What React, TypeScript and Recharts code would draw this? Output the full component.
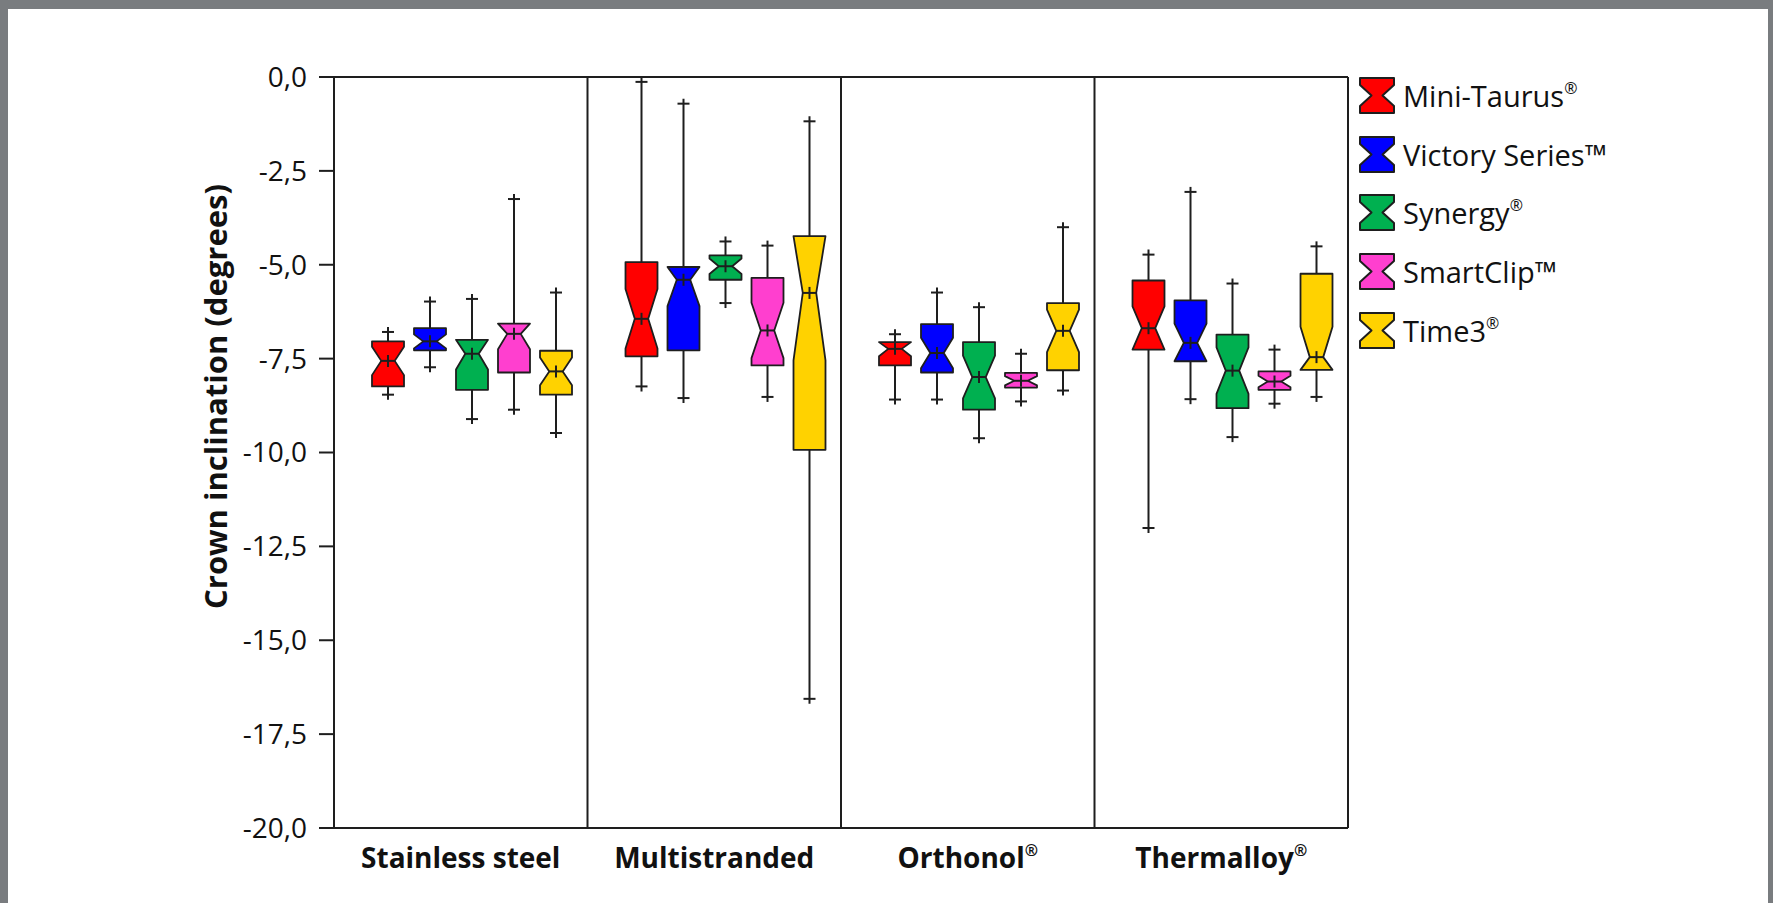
import { BarChart, Bar, XAxis, YAxis, ReferenceLine, Label } from 'recharts';

const categories = ['Stainless steel', 'Multistranded', 'Orthonol®', 'Thermalloy®'];
const yTicks = [0, -2.5, -5, -7.5, -10, -12.5, -15, -17.5, -20];

// [min, Q1, median, Q3, max] for each wire type
const miniTaurus = [
  [-8.46, -8.24, -7.56, -7.04, -6.79],
  [-8.24, -7.44, -6.44, -4.93, -0.13],
  [-8.59, -7.68, -7.24, -7.06, -6.85],
  [-12.01, -7.26, -6.69, -5.42, -4.73],
];
const victorySeries = [
  [-7.73, -7.28, -7.04, -6.69, -5.98],
  [-8.55, -7.28, -5.4, -5.06, -0.71],
  [-8.59, -7.87, -7.35, -6.58, -5.74],
  [-8.58, -7.57, -7.08, -5.95, -3.06],
];
const synergy = [
  [-9.11, -8.33, -7.37, -7.0, -5.91],
  [-6.02, -5.4, -5.04, -4.75, -4.38],
  [-9.62, -8.86, -7.99, -7.06, -6.13],
  [-9.59, -8.82, -7.82, -6.86, -5.5],
];
const smartClip = [
  [-8.86, -7.87, -6.84, -6.57, -3.25],
  [-8.52, -7.68, -6.75, -5.35, -4.49],
  [-8.64, -8.27, -8.09, -7.88, -7.37],
  [-8.7, -8.33, -8.11, -7.84, -7.26],
];
const time3 = [
  [-9.48, -8.46, -7.84, -7.29, -5.74],
  [-16.56, -9.93, -5.75, -4.24, -1.18],
  [-8.35, -7.81, -6.76, -6.02, -4.0],
  [-8.52, -7.8, -7.46, -5.24, -4.51],
];

// sample size per group, used for the notch width
const groupSize = 25;

const series = [
  { key: 'miniTaurus', name: 'Mini-Taurus®', color: '#ff0000', values: miniTaurus },
  { key: 'victorySeries', name: 'Victory Series™', color: '#0000ff', values: victorySeries },
  { key: 'synergy', name: 'Synergy®', color: '#00b050', values: synergy },
  { key: 'smartClip', name: 'SmartClip™', color: '#ff3fcf', values: smartClip },
  { key: 'time3', name: 'Time3®', color: '#ffd200', values: time3 },
];

const data = categories.map((name, i) => {
  const row: any = { name };
  series.forEach((s) => {
    row[s.key] = s.values[i];
  });
  return row;
});

const LINE = '#1e1e1e';

function NotchedBox(props: any) {
  const { x, y, width, height, stats, color } = props;
  if (!stats || width == null) return null;
  const [lo, q1, med, q3, hi] = stats;
  const top = Math.min(y, y + height);
  const h = Math.abs(height);
  const py = (v: number) => top + ((hi - v) / (hi - lo)) * h;
  const cx = x + width / 2;
  const notch = (1.58 * (q3 - q1)) / Math.sqrt(groupSize);
  const yQ3 = py(q3);
  const yQ1 = py(q1);
  const yMed = py(med);
  const yNTop = Math.max(yQ3, py(med + notch));
  const yNBot = Math.min(yQ1, py(med - notch));
  const waist = width * 0.21;
  const l = x;
  const r = x + width;
  const pts = [
    [l, yQ3], [r, yQ3], [r, yNTop], [cx + waist, yMed], [r, yNBot],
    [r, yQ1], [l, yQ1], [l, yNBot], [cx - waist, yMed], [l, yNTop],
  ].map((p) => p.join(',')).join(' ');
  const yHi = py(hi);
  const yLo = py(lo);
  return (
    <g>
      <line x1={cx} x2={cx} y1={yHi - 5} y2={yLo + 5} stroke={LINE} strokeWidth={2} />
      <line x1={cx - 6} x2={cx + 6} y1={yHi} y2={yHi} stroke={LINE} strokeWidth={2} />
      <line x1={cx - 6} x2={cx + 6} y1={yLo} y2={yLo} stroke={LINE} strokeWidth={2} />
      <polygon points={pts} fill={color} stroke={LINE} strokeWidth={1.8} strokeLinejoin="round" />
      <line x1={cx - waist} x2={cx + waist} y1={yMed} y2={yMed} stroke={LINE} strokeWidth={2} />
      <line x1={cx} x2={cx} y1={yMed - 6} y2={yMed + 6} stroke={LINE} strokeWidth={2} />
    </g>
  );
}

function splitMark(name: string) {
  if (name.endsWith('®')) return [name.slice(0, -1), '®'];
  return [name, ''];
}

function XTick(props: any) {
  const { x, y, payload } = props;
  const [base, mark] = splitMark(payload.value);
  return (
    <text x={x} y={y} dy={40} textAnchor="middle" fontSize={28} fontWeight={700} fill="#111">
      <tspan>{base}</tspan>
      {mark && (
        <tspan fontSize={16} dy={-12}>
          {mark}
        </tspan>
      )}
    </text>
  );
}

function YTitle(props: any) {
  const { viewBox } = props;
  const cx = viewBox.x + viewBox.width - 119;
  const cy = viewBox.y + viewBox.height / 2 - 56;
  return (
    <text
      x={cx}
      y={cy}
      transform={`rotate(-90, ${cx}, ${cy})`}
      textAnchor="middle"
      dominantBaseline="central"
      fontSize={31}
      fontWeight={700}
      fill="#111"
    >
      Crown inclination (degrees)
    </text>
  );
}

function LegendIcon({ color }: { color: string }) {
  return (
    <svg width={36} height={37} style={{ display: 'block' }}>
      <polygon
        points="1,1 35,1 35,8 23.5,18.5 35,29 35,36 1,36 1,29 12.5,18.5 1,8"
        fill={color}
        stroke={LINE}
        strokeWidth={2}
        strokeLinejoin="round"
      />
    </svg>
  );
}

export default function App() {
  return (
    <div
      style={{
        position: 'fixed',
        left: 0,
        top: 0,
        width: 1773,
        height: 903,
        overflow: 'hidden',
        background: '#797c7f',
        fontFamily: "'Open Sans', sans-serif",
      }}
    >
      <div style={{ position: 'absolute', left: 8, top: 9, width: 1760, height: 894, background: '#fff' }} />
      <div style={{ position: 'absolute', left: 0, top: 0 }}>
        <BarChart
          width={1773}
          height={903}
          data={data}
          barGap={10}
          margin={{ top: 77, right: 425, bottom: 15, left: 224 }}
        >
          <XAxis
            dataKey="name"
            interval={0}
            height={60}
            tickLine={false}
            tickSize={0}
            tickMargin={0}
            axisLine={{ stroke: LINE, strokeWidth: 2 }}
            tick={<XTick />}
          />
          <YAxis
            width={110}
            type="number"
            domain={[-20, 0]}
            ticks={yTicks}
            interval={0}
            allowDataOverflow
            tickFormatter={(v: number) => v.toFixed(1).replace('.', ',')}
            tick={{ fontSize: 28, fill: '#111' }}
            tickSize={15}
            tickMargin={12}
            tickLine={{ stroke: LINE, strokeWidth: 2 }}
            axisLine={{ stroke: LINE, strokeWidth: 2 }}
          >
            <Label content={<YTitle />} />
          </YAxis>
          <ReferenceLine y={0} stroke={LINE} strokeWidth={2} />
          {categories.slice(1).map((c) => (
            <ReferenceLine key={c} x={c} position="start" stroke={LINE} strokeWidth={2} />
          ))}
          <ReferenceLine x={categories[categories.length - 1]} position="end" stroke={LINE} strokeWidth={2} />
          <Bar dataKey="spacer" barSize={12} fill="none" isAnimationActive={false} />
          {series.map((s) => (
            <Bar
              key={s.key}
              name={s.name}
              dataKey={(row: any) => [row[s.key][0], row[s.key][4]]}
              barSize={32}
              fill={s.color}
              isAnimationActive={false}
              shape={(p: any) => <NotchedBox {...p} stats={p.payload[s.key]} color={s.color} />}
            />
          ))}
        </BarChart>
      </div>
      <div style={{ position: 'absolute', left: 1359, top: 66 }}>
        {series.map((s) => {
          const [base, mark] = splitMark(s.name);
          return (
            <div key={s.key} style={{ display: 'flex', alignItems: 'center', height: 58.75 }}>
              <LegendIcon color={s.color} />
              <span style={{ marginLeft: 8, fontSize: 29, lineHeight: 1, color: '#111', whiteSpace: 'nowrap' }}>
                {base}
                {mark && <span style={{ fontSize: '0.55em', verticalAlign: '0.8em' }}>{mark}</span>}
              </span>
            </div>
          );
        })}
      </div>
    </div>
  );
}
